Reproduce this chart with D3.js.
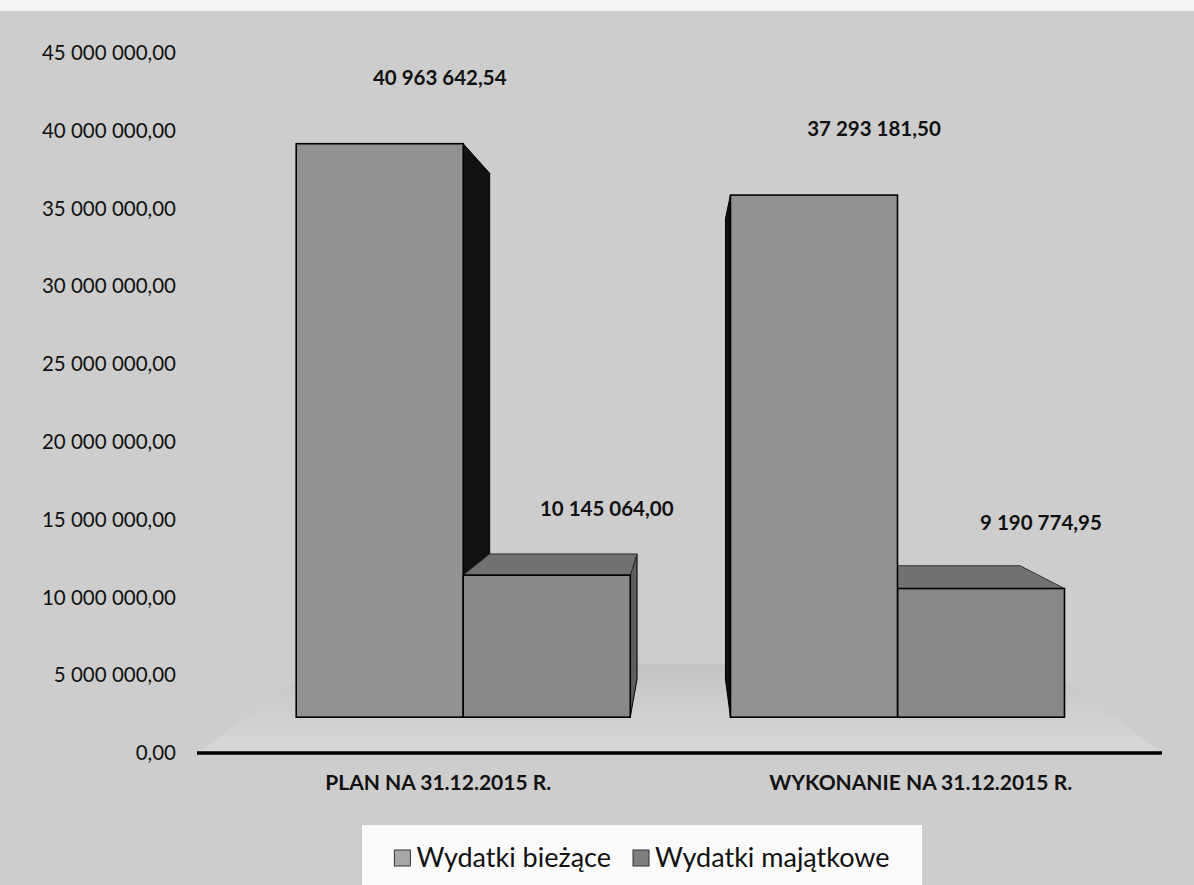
<!DOCTYPE html>
<html>
<head>
<meta charset="utf-8">
<script src="https://cdn.jsdelivr.net/npm/d3@7"></script>
<style>
  html, body { margin: 0; padding: 0; background: #cfcfcf; }
  svg { display: block; }
  text { font-family: Lato, "Open Sans", sans-serif; }
</style>
</head>
<body>
<svg id="chart" width="1194" height="885"></svg>
<script>
// ---- data ----
const categories = ["PLAN NA 31.12.2015 R.", "WYKONANIE NA 31.12.2015 R."];
const seriesNames = ["Wydatki bieżące", "Wydatki majątkowe"];
const wydatkiBiezace = [40963642.54, 37293181.50];
const wydatkiMajatkowe = [10145064.00, 9190774.95];
const yTicks = [0, 5e6, 10e6, 15e6, 20e6, 25e6, 30e6, 35e6, 40e6, 45e6];

const seriesValues = [wydatkiBiezace, wydatkiMajatkowe];
const seriesFill = ["#929292", "#888888"];
const seriesTop = ["#7c7c7c", "#727272"];
const seriesSide = ["#111111", "#5e5e5e"];

const W = 1194, H = 885;
const svg = d3.select("#chart");

const pl = d3.formatLocale({decimal: ",", thousands: " ", grouping: [3], currency: ["", ""]});
const fmt = pl.format(",.2f");

// background
svg.append("rect").attr("width", W).attr("height", H).attr("fill", "#cdcdcd");
svg.append("rect").attr("width", W).attr("height", 11).attr("fill", "#f4f4f4");

// scales (front plane)
const x0 = d3.scaleBand().domain(categories).range([197, 1162]).paddingInner(0).paddingOuter(0);
const x1 = d3.scaleBand().domain(seriesNames).range([0, x0.bandwidth()]).paddingInner(0).paddingOuter(0.3);
const y = d3.scaleLinear().domain([0, 45e6]).range([753, 53]);

// simple perspective toward a vanishing point
const VP = [688, 395];
const dFront = 0.10, dBack = 0.206, dFloor = 0.25;
function proj(X, Y, d) { return [X + d * (VP[0] - X), Y + d * (VP[1] - Y)]; }
const poly = pts => pts.map(p => p.join(",")).join(" ");

// floor
const [fx0, fx1] = x0.range();
const floorPts = [proj(fx0, y(0), 0), proj(fx1, y(0), 0), proj(fx1, y(0), dFloor), proj(fx0, y(0), dFloor)];
const grad = svg.append("defs").append("linearGradient").attr("id", "floorGrad")
  .attr("x1", 0).attr("y1", 1).attr("x2", 0).attr("y2", 0);
grad.append("stop").attr("offset", "0%").attr("stop-color", "#d8d8d8");
grad.append("stop").attr("offset", "100%").attr("stop-color", "#c4c4c4");
svg.append("polygon").attr("points", poly(floorPts)).attr("fill", "url(#floorGrad)");

// bars
const bars = [];
categories.forEach((c, ci) => {
  seriesNames.forEach((s, si) => {
    const X0 = x0(c) + x1(s), X1 = X0 + x1.bandwidth();
    bars.push({ci, si, X0, X1, v: seriesValues[si][ci]});
  });
});
bars.sort((a, b) => Math.abs((b.X0 + b.X1) / 2 - VP[0]) - Math.abs((a.X0 + a.X1) / 2 - VP[0]));

const gBars = svg.append("g");
bars.forEach(b => {
  const Yt = y(b.v), Yb = y(0);
  const g = gBars.append("g");
  if (b.X1 < VP[0]) {
    g.append("polygon")
      .attr("points", poly([proj(b.X1, Yt, dFront), proj(b.X1, Yt, dBack), proj(b.X1, Yb, dBack), proj(b.X1, Yb, dFront)]))
      .attr("fill", seriesSide[b.si]).attr("stroke", "#000").attr("stroke-width", 1);
  }
  if (b.X0 > VP[0]) {
    g.append("polygon")
      .attr("points", poly([proj(b.X0, Yt, dFront), proj(b.X0, Yt, dBack), proj(b.X0, Yb, dBack), proj(b.X0, Yb, dFront)]))
      .attr("fill", seriesSide[b.si]).attr("stroke", "#000").attr("stroke-width", 1);
  }
  if (Yt > VP[1]) {
    g.append("polygon")
      .attr("points", poly([proj(b.X0, Yt, dFront), proj(b.X1, Yt, dFront), proj(b.X1, Yt, dBack), proj(b.X0, Yt, dBack)]))
      .attr("fill", seriesTop[b.si]).attr("stroke", "#333").attr("stroke-width", 1);
  }
  const p0 = proj(b.X0, Yt, dFront), p1 = proj(b.X1, Yb, dFront);
  g.append("rect")
    .attr("x", p0[0]).attr("y", p0[1])
    .attr("width", p1[0] - p0[0]).attr("height", p1[1] - p0[1])
    .attr("fill", seriesFill[b.si]).attr("stroke", "#000").attr("stroke-width", 1.6);
});

// data labels
const gLab = svg.append("g");
bars.forEach(b => {
  const p = proj((b.X0 + b.X1) / 2, y(b.v), dFront);
  gLab.append("text")
    .attr("x", p[0] + 60).attr("y", p[1] - 66)
    .attr("dy", "0.35em")
    .attr("text-anchor", "middle")
    .attr("font-size", 20.5).attr("font-weight", 700).attr("fill", "#111")
    .text(fmt(b.v));
});

// y axis (labels only)
const yAxis = svg.append("g").attr("transform", `translate(${x0.range()[0]},0)`)
  .call(d3.axisLeft(y).tickValues(yTicks).tickSize(0).tickPadding(21).tickFormat(fmt));
yAxis.select(".domain").remove();
yAxis.selectAll("text").attr("font-size", 20.5).attr("font-family", "Lato, sans-serif").attr("fill", "#111");

// x axis line
svg.append("line")
  .attr("x1", x0.range()[0]).attr("x2", x0.range()[1])
  .attr("y1", y(0)).attr("y2", y(0))
  .attr("stroke", "#000").attr("stroke-width", 3.5);

// category labels
svg.append("g").selectAll("text").data(categories).join("text")
  .attr("x", d => x0(d) + x0.bandwidth() / 2)
  .attr("y", y(0) + 30).attr("dy", "0.35em")
  .attr("text-anchor", "middle")
  .attr("font-size", 21).attr("font-weight", 700).attr("fill", "#111")
  .text(d => d);

// legend
svg.append("rect").attr("x", 362).attr("y", 825).attr("width", 560).attr("height", 60).attr("fill", "#fbfbfb");
const leg = svg.append("g");
let lx = 0;
seriesNames.forEach((s, i) => {
  const it = leg.append("g").attr("transform", `translate(${lx},0)`);
  it.append("rect").attr("x", 0).attr("y", -8).attr("width", 16).attr("height", 16)
    .attr("fill", i === 0 ? "#a8a8a8" : "#7e7e7e").attr("stroke", "#333").attr("stroke-width", 1);
  const t = it.append("text").attr("x", 22).attr("y", 0).attr("dy", "0.35em")
    .attr("font-size", 27).attr("fill", "#111").text(s);
  lx += 22 + t.node().getComputedTextLength() + 22;
});
const legW = lx - 22;
leg.attr("transform", `translate(${(362 + 922) / 2 - legW / 2},858)`);
</script>
</body>
</html>
